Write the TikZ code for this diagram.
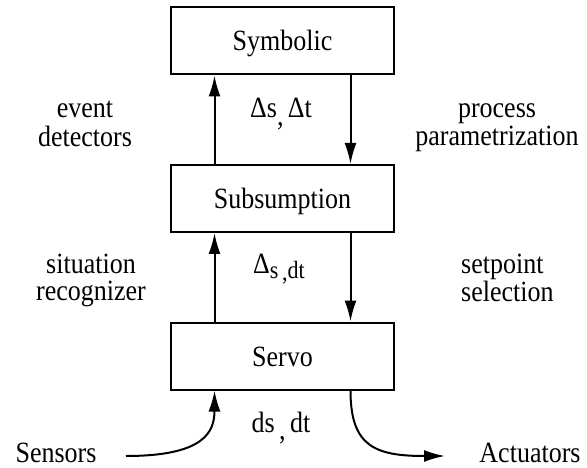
\documentclass[tikz,border=0pt]{standalone}
\usepackage{fontspec}
\setmainfont{Liberation Serif}
\usetikzlibrary{arrows.meta}
% text is set slightly taller than the font's natural proportions
\newcommand{\tall}[1]{\scalebox{1}[1.13]{#1}}
\newcommand{\lowc}{\raisebox{-7pt}{,}}
\newcommand{\twolines}[3]{\tall{\begin{tabular}[t]{@{}#1@{}}#2\\#3\end{tabular}}}

\begin{document}
\begin{tikzpicture}[x=1pt,y=-1pt,
  layer/.style={draw, line width=2pt, minimum width=223pt, minimum height=67pt,
    inner sep=0pt, text height=20pt, text depth=0pt, font=\fontsize{26}{26}\selectfont},
  flow/.style={line width=2pt, -{Latex[length=21pt,width=12pt]}},
  lbl/.style={inner sep=0pt, anchor=base, font=\fontsize{26}{24.5}\selectfont}]
\useasboundingbox (0,0) rectangle (587,468);

% the three control layers
\node[layer] (sym)   at (282.5,41)    {\tall{Symbolic}};
\node[layer] (sub)   at (282.5,198.5) {\tall{Subsumption}};
\node[layer] (servo) at (282.5,356)   {\tall{Servo}};

% upward and downward flows between layers
\draw[flow] ([xshift=44.5pt]sub.north west)   -- ([xshift=44.5pt]sym.south west);
\draw[flow] ([xshift=-44.5pt]sym.south east)  -- ([xshift=-44.5pt]sub.north east);
\draw[flow] ([xshift=44.5pt]servo.north west) -- ([xshift=44.5pt]sub.south west);
\draw[flow] ([xshift=-44.5pt]sub.south east)  -- ([xshift=-44.5pt]servo.north east);

% sensors in, actuators out
\node[lbl] (sens) at (56,462)  {\tall{Sensors}};
\node[lbl] (act)  at (530,462) {\tall{Actuators}};
\coordinate (sin)  at (126,456);
\coordinate (aout) at (445,456);
\draw[flow] (sin) .. controls +(79,0) and +(0,41) .. ([xshift=44.5pt]servo.south west);
\draw[flow] ([xshift=-44.5pt]servo.south east) .. controls +(0,56) and +(-70,0) .. (aout);

% flow labels
\node[lbl] (ed) at (85,118)  {\twolines{c}{event}{detectors}};
\node[lbl] (pp) at (497,118) {\twolines{c}{process}{parametrization}};
\node[lbl] (d1) at (281,118) {\tall{Δs\lowc\,Δt}};

\node[lbl] (sr) at (91,273) {\twolines{c}{situation}{recognizer}};
\node[lbl, anchor=base west] (ss) at (461,273) {\twolines{l}{setpoint}{selection}};
\node[lbl] (d2) at (279,273) {\tall{Δ\raisebox{-5pt}{\fontsize{22}{22}\selectfont s\,\raisebox{-2pt}{,}dt}}};

\node[lbl] (d3) at (281,432) {\tall{ds\,\lowc\,dt}};
\end{tikzpicture}
\end{document}
